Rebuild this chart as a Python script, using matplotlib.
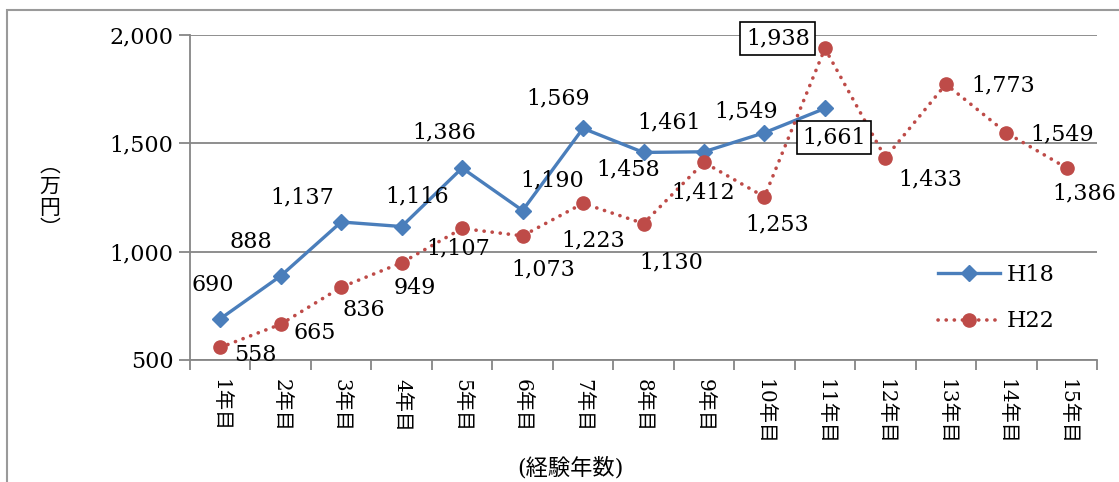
import matplotlib.pyplot as plt
from matplotlib.patches import Rectangle

# data
years = [str(i) + "年目" for i in range(1, 16)]
h18 = [690, 888, 1137, 1116, 1386, 1190, 1569, 1458, 1461, 1549, 1661]
h22 = [558, 665, 836, 949, 1107, 1073, 1223, 1130, 1412, 1253, 1938, 1433, 1773, 1549, 1386]
boxed_h18 = [10]
boxed_h22 = [10]

# label offsets (pixels, up is positive), hand placed like the original
off18 = [(-7, 34), (-30, 34), (-39, 25), (15, 30), (-18, 36), (30, 30), (-25, 30),
         (-15, -17), (-35, 29), (-18, 21), (9, -29)]
off22 = [(35, -8), (34, -9), (23, -23), (13, -25), (-4, -20), (21, -34), (10, -37),
         (28, -39), (-1, -30), (13, -28), (-47, 10), (45, -22), (57, -1), (56, -2), (17, -25)]

plt.rcParams['font.family'] = ['DejaVu Serif', 'Noto Sans CJK JP']

fig = plt.figure(figsize=(11.19, 4.82), dpi=100)
ax = fig.add_axes([190/1119, 1-360/482, 907/1119, 325/482])

blue = '#4A7EBB'
red = '#BE4B48'
grid = '#868686'

x18 = list(range(len(h18)))
x22 = list(range(len(h22)))
ax.plot(x18, h18, color=blue, lw=2.4, marker='D', ms=8, label='H18', zorder=3)
ax.plot(x22, h22, color=red, lw=2.6, ls=(0, (0.05, 2.2)), dash_capstyle='round',
        marker='o', ms=9.5, label='H22', zorder=3)

for i, v in enumerate(h18):
    box = dict(boxstyle='square,pad=0.25', fc='white', ec='black', lw=1.2) if i in boxed_h18 else None
    ax.annotate(f"{v:,}", (i, v), xytext=off18[i], textcoords='offset pixels',
                ha='center', va='center', fontsize=16, bbox=box, zorder=4)
for i, v in enumerate(h22):
    box = dict(boxstyle='square,pad=0.25', fc='white', ec='black', lw=1.2) if i in boxed_h22 else None
    ax.annotate(f"{v:,}", (i, v), xytext=off22[i], textcoords='offset pixels',
                ha='center', va='center', fontsize=16, bbox=box, zorder=4)

ax.set_xlim(-0.5, 14.5)
ax.set_ylim(500, 2000)
ax.set_yticks([500, 1000, 1500, 2000])
ax.set_yticklabels([f"{v:,}" for v in [500, 1000, 1500, 2000]], fontsize=16)
ax.set_xticks(range(15))
ax.set_xticklabels(years, rotation=-90, fontsize=14.5, va='top', ha='center')
ax.set_xticks([i - 0.5 for i in range(16)], minor=True)
ax.tick_params(axis='x', which='major', length=0, pad=14)
ax.tick_params(axis='x', which='minor', length=7, color=grid, width=1.3, direction='out')
ax.tick_params(axis='y', length=8, color=grid, width=1.3, pad=4)

ax.grid(axis='y', color=grid, lw=1.3)
ax.set_axisbelow(True)
for s in ['top', 'right']:
    ax.spines[s].set_visible(False)
for s in ['left', 'bottom']:
    ax.spines[s].set_color(grid)
    ax.spines[s].set_linewidth(1.3)

ax.legend(loc='center left', bbox_to_anchor=(0.815, 0.19), frameon=False, fontsize=16,
          handlelength=2.8, labelspacing=1.1, handletextpad=0.3, borderaxespad=0)

fig.text(50/1119, 1-197/482, "︵\n万\n円\n︶", family='Noto Sans CJK JP', fontsize=15,
         ha='center', va='center', linespacing=0.95)
fig.text(570/1119, 1-468/482, "(経験年数)", fontsize=16, ha='center', va='center')

fig.patches.append(Rectangle((7/1119, -0.1), 1.1, 0.1 + 472/482, transform=fig.transFigure,
                             fill=False, ec='#9A9A9A', lw=1.5))

fig.savefig('out.png', dpi=100)
